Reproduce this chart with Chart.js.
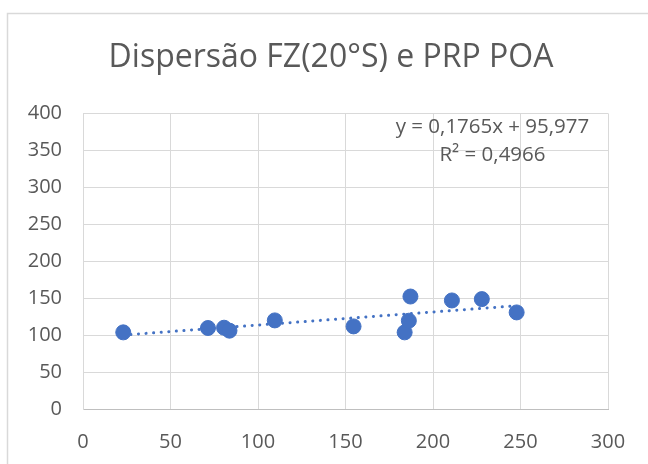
<!DOCTYPE html>
<html>
<head>
<meta charset="utf-8">
<title>Dispersão FZ(20°S) e PRP POA</title>
<script src="https://cdn.jsdelivr.net/npm/chart.js@4"></script>
<style>
  html, body { margin: 0; padding: 0; background: #fff; overflow: hidden; }
  #wrap { position: relative; width: 648px; height: 464px; }
</style>
</head>
<body>
<div id="wrap"><canvas id="scatter_graph" width="648" height="464"></canvas></div>
<script>
// FZ (20°S) no eixo x, PRP POA no eixo y
const fz = [23, 71.4, 80.6, 83.7, 109.6, 154.6, 183.8, 186.2, 187.1, 210.8, 227.9, 247.8]
const prp = [103.7, 109.6, 110, 106, 119.9, 111.8, 103.7, 119.5, 152.2, 146.9, 148.7, 130.7]

// linha de tendência linear
const slope = 0.1765
const intercept = 95.977
const r2 = 0.4966

const xTicks = [0, 50, 100, 150, 200, 250, 300]
const yTicks = [0, 50, 100, 150, 200, 250, 300, 350, 400]

const fmt = n => n.toString().replace('.', ',')
const eqLines = ['y = ' + fmt(slope) + 'x + ' + fmt(intercept), 'R² = ' + fmt(r2)]

const FONT = "'Open Sans', Lato, sans-serif"
const BLUE = '#4472C4'
const GRID = '#d9d9d9'
const TEXT = '#595959'

const points = fz.map((x, i) => ({ x: x, y: prp[i] }))
const xMin = Math.min(...fz)
const xMax = Math.max(...fz)
const trend = [xMin, xMax].map(x => ({ x: x, y: slope * x + intercept }))

// moldura da área do gráfico + equação da tendência
const frame = {
    id: 'frame',
    afterLayout(chart) {
        // título centrado na moldura inteira, não só na área útil
        const t = chart.titleBlock
        if (t) { t.left = 0; t.right = 662 }
    },
    beforeDraw(chart) {
        const ctx = chart.ctx
        ctx.save()
        ctx.fillStyle = '#fff'
        ctx.fillRect(0, 0, chart.width, chart.height)
        ctx.strokeStyle = GRID
        ctx.lineWidth = 1.5
        ctx.strokeRect(7.5, 13.5, 800, 600)
        ctx.restore()
    },
    afterDatasetsDraw(chart) {
        const ctx = chart.ctx
        const a = chart.chartArea
        ctx.save()
        ctx.fillStyle = TEXT
        ctx.font = '20.5px ' + FONT
        ctx.textAlign = 'center'
        ctx.textBaseline = 'middle'
        const cx = a.left + (a.right - a.left) * 0.78
        ctx.fillText(eqLines[0], cx, a.top + 14)
        ctx.fillText(eqLines[1], cx, a.top + 42)
        ctx.restore()
    }
}

const data = {
    datasets: [
        {
            type: 'scatter',
            label: 'PRP POA',
            data: points,
            backgroundColor: BLUE,
            borderColor: BLUE,
            pointRadius: 7.5,
            pointHoverRadius: 7.5,
            order: 1
        },
        {
            type: 'line',
            label: 'Linear',
            data: trend,
            borderColor: BLUE,
            borderWidth: 3,
            borderDash: [0.1, 7.5],
            borderCapStyle: 'round',
            pointRadius: 0,
            fill: false,
            order: 2
        }
    ]
}

const options = {
    responsive: false,
    animation: false,
    layout: { padding: { left: 0, right: 40, top: 0, bottom: 0 } },
    plugins: {
        legend: { display: false },
        tooltip: { enabled: false },
        title: {
            display: true,
            text: 'Dispersão FZ(20°S) e PRP POA',
            color: TEXT,
            font: { family: FONT, size: 32, weight: 'normal', lineHeight: 1.2 },
            padding: { top: 39, bottom: 36 }
        }
    },
    scales: {
        x: {
            type: 'linear',
            min: 0,
            max: 300,
            afterBuildTicks: s => { s.ticks = xTicks.map(v => ({ value: v })) },
            afterFit: s => { s.height = 55 },
            grid: { color: GRID, drawTicks: false },
            border: { color: '#bfbfbf' },
            ticks: { color: TEXT, padding: 21, font: { family: FONT, size: 20 } }
        },
        y: {
            type: 'linear',
            min: 0,
            max: 400,
            afterBuildTicks: s => { s.ticks = yTicks.map(v => ({ value: v })) },
            afterFit: s => { s.width = 83 },
            grid: { color: GRID, drawTicks: false },
            border: { color: GRID },
            ticks: { color: TEXT, padding: 21, font: { family: FONT, size: 20 } }
        }
    }
}

new Chart('scatter_graph', { data, options, plugins: [frame] })
</script>
</body>
</html>
